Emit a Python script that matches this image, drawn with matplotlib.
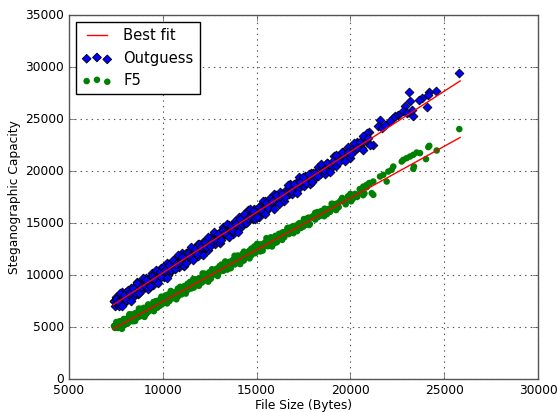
import matplotlib
matplotlib.use("Agg")
import matplotlib.pyplot as plt
import numpy as np

# ---- data ----
# files measured with both methods (set A)
file_size = [
    7400, 7450, 7500, 7550, 7600, 7650, 7700, 7750, 7800, 7850,
    7900, 7950, 8000, 8050, 8100, 8150, 8200, 8250, 8300, 8350,
    8400, 8450, 8500, 8550, 8600, 8650, 8700, 8750, 8800, 8850,
    8900, 8950, 9000, 9050, 9100, 9150, 9200, 9250, 9300, 9350,
    9400, 9450, 9500, 9550, 9600, 9650, 9700, 9750, 9800, 9850,
    9900, 9950, 10000, 10050, 10100, 10150, 10200, 10250, 10300, 10350,
    10400, 10450, 10500, 10550, 10600, 10650, 10700, 10750, 10800, 10850,
    10900, 10950, 11000, 11050, 11100, 11150, 11200, 11250, 11300, 11350,
    11400, 11450, 11500, 11550, 11600, 11650, 11700, 11750, 11800, 11850,
    11900, 11950,
    12000, 12080, 12160, 12240, 12320, 12400, 12480, 12560, 12640, 12720,
    12800, 12880, 12960, 13040, 13120, 13200, 13280, 13360, 13440, 13520,
    13600, 13680, 13760, 13840, 13920, 14000, 14080, 14160, 14240, 14320,
    14400, 14480, 14560, 14640, 14720, 14800, 14880, 14960, 15040, 15120,
    15200, 15280, 15360, 15440, 15520, 15600, 15680, 15760, 15840, 15920,
    16000, 16080, 16160, 16240, 16320, 16400, 16480, 16560, 16640, 16720,
    16800, 16880, 16960, 17040, 17120, 17200, 17280, 17360, 17440, 17520,
    17600, 17680, 17760, 17840, 17920,
    18000, 18125, 18250, 18375, 18500, 18625, 18750, 18875, 19000, 19125,
    19250, 19375, 19500, 19625, 19750, 19875, 20000, 20125, 20250, 20375,
    20500, 20625, 20750, 20875, 21000,
]

outguess_capacity = [
    7497, 7005, 7863, 7272, 7580, 7038, 7946, 7604, 7362, 8371,
    7229, 8037, 7745, 8403, 7662, 8170, 8428, 7936, 8794, 8202,
    8511, 7969, 8877, 8535, 8293, 9301, 8160, 8968, 8676, 9334,
    8592, 9101, 9359, 8867, 9725, 9133, 9441, 8900, 9808, 9466,
    9224, 10232, 9090, 9899, 9607, 10265, 9523, 10031, 10290, 9798,
    10656, 10064, 10372, 9830, 10739, 10397, 10155, 11163, 10021, 10830,
    10538, 11196, 10454, 10962, 11220, 10729, 11587, 10995, 11303, 10761,
    11670, 11328, 11086, 12094, 10952, 11760, 11469, 12127, 11385, 11893,
    12151, 11660, 12518, 11926, 12234, 11692, 12600, 12259, 12017, 13025,
    11883, 12691,
    12799, 12242, 13235, 12678, 13021, 12414, 13458, 13251, 13044, 13987,
    13030, 13723, 13466, 14159, 13552, 14646, 13989, 14382, 13825, 14818,
    14261, 14604, 13997, 15040, 14833, 14626, 15570, 14613, 15306, 15049,
    15742, 15135, 16228, 15571, 15964, 15407, 16400, 15844, 16187, 15580,
    16623, 16416, 16209, 17152, 16195, 16888, 16631, 17325, 16718, 17811,
    17154, 17547, 16990, 17983, 17426, 17769, 17162, 18205, 17999, 17792,
    18735, 17778, 18471, 18214, 18907, 18300, 19393, 18737, 19130, 18573,
    19566, 19009, 19352, 18745, 19788,
    19831, 19326, 20372, 19767, 20263, 19758, 20804, 20549, 20394, 21490,
    20535, 21331, 21176, 21872, 21317, 22313, 21308, 22254, 21999, 22795,
    22540, 22185, 23081, 22826, 23722,
]

f5_capacity = [
    5130, 4930, 5129, 5479, 4929, 5179, 5578, 4928, 5478, 5278,
    5727, 5227, 5577, 5776, 5376, 5776, 6126, 5575, 5825, 6225,
    5575, 6124, 5924, 6374, 5874, 6223, 6423, 6023, 6422, 6772,
    6222, 6472, 6871, 6221, 6771, 6571, 7020, 6520, 6870, 7070,
    6669, 7069, 7419, 6869, 7118, 7518, 6868, 7417, 7217, 7667,
    7167, 7516, 7716, 7316, 7716, 8065, 7515, 7765, 8165, 7514,
    8064, 7864, 8314, 7813, 8163, 8363, 7962, 8362, 8712, 8162,
    8411, 8811, 8161, 8711, 8510, 8960, 8460, 8810, 9009, 8609,
    9009, 9359, 8808, 9058, 9458, 8808, 9357, 9157, 9607, 9106,
    9456, 9656,
    9755, 9285, 9714, 10144, 9573, 9903, 10283, 9662, 10292, 10071,
    10501, 10631, 10160, 10590, 11019, 10449, 10779, 11158, 10538, 11167,
    10947, 11376, 11506, 11036, 11465, 11894, 11324, 11654, 12033, 11413,
    12042, 11822, 12252, 12381, 11911, 12340, 12770, 12200, 12529, 12909,
    12288, 12918, 12697, 13127, 13256, 12786, 13216, 13645, 13075, 13404,
    13784, 13163, 13793, 13573, 14002, 14132, 13661, 14091, 14520, 13950,
    14279, 14659, 14039, 14668, 14448, 14877, 15007, 14536, 14966, 15396,
    14825, 15155, 15534, 14914, 15543,
    15673, 15347, 16071, 15696, 16070, 16394, 15869, 16393, 16867, 16391,
    16866, 16540, 17214, 17089, 16813, 17537, 17812, 17336, 17810, 17735,
    18259, 18133, 17858, 18482, 18856,
]

# files measured with both methods (set B)
file_size_b = [
    7425, 7525, 7625, 7725, 7825, 7925, 8025, 8125, 8225, 8325,
    8425, 8525, 8625, 8725, 8825, 8925, 9025, 9125, 9225, 9325,
    9425, 9525, 9625, 9725, 9825, 9925, 10025, 10125, 10225, 10325,
    10425, 10525, 10625, 10725, 10825, 10925, 11025, 11125, 11225, 11325,
    11425, 11525, 11625, 11725, 11825, 11925, 12025, 12125, 12225, 12325,
    12425, 12525, 12625, 12725, 12825, 12925, 13025, 13125, 13225, 13325,
    13425, 13525, 13625, 13725, 13825, 13925, 14025, 14125, 14225, 14325,
    14425, 14525, 14625, 14725, 14825, 14925, 15025, 15125, 15225, 15325,
    15425, 15525, 15625, 15725, 15825, 15925,
    16040, 16200, 16360, 16520, 16680, 16840, 17000, 17160, 17320, 17480,
    17640, 17800, 17960, 18120, 18280, 18440, 18600, 18760, 18920, 19080,
    19240, 19400, 19560, 19720, 19880, 20040, 20200, 20360, 20520, 20680,
    20840,
]

outguess_capacity_b = [
    7526, 7692, 7409, 8275, 7041, 8058, 7624, 8540, 8257, 7523,
    8790, 8306, 9222, 8339, 8905, 9721, 8938, 9504, 8720, 8937,
    9903, 9620, 10486, 9252, 10269, 9835, 10751, 10468, 9734, 11000,
    10517, 11433, 10550, 11116, 11932, 11149, 11715, 10931, 11148, 12114,
    11830, 12697, 11463, 12480, 12046, 12962, 12679, 11945, 13211, 12728,
    13644, 12760, 13327, 14143, 13359, 13926, 13142, 13359, 14325, 14041,
    14908, 13674, 14690, 14257, 15173, 14889, 14156, 15422, 14938, 15855,
    14971, 15538, 16354, 15570, 16137, 15353, 15569, 16536, 16252, 17118,
    15885, 16901, 16468, 17384, 17100, 16367,
    17700, 16886, 17772, 17509, 18645, 18081, 18717, 17903, 18940, 19476,
    18862, 19748, 18934, 19821, 19557, 20693, 20129, 20765, 19952, 20988,
    21524, 20910, 21796, 20983, 21869, 21605, 22741, 22178, 22814, 22000,
    23036,
]

f5_capacity_b = [
    5105, 5504, 5004, 5453, 4853, 5802, 5502, 5351, 6251, 5650,
    6200, 5599, 6249, 6798, 6097, 6497, 5996, 6296, 7195, 6695,
    7144, 6544, 7493, 7193, 7042, 7942, 7341, 7890, 7290, 7939,
    8489, 7788, 8188, 7687, 7987, 8886, 8386, 8835, 8234, 9184,
    8883, 8733, 9632, 9032, 9581, 8981, 9630, 10180, 9479, 9879,
    9378, 9677, 10577, 10076, 10526, 9925, 10875, 10574, 10424, 11323,
    10723, 11272, 10672, 11321, 11870, 11170, 11569, 11069, 11368, 12268,
    11767, 12217, 11616, 12566, 12265, 12115, 13014, 12413, 12963, 12362,
    13012, 13561, 12861, 13260, 12760, 13059,
    13223, 13982, 13391, 14150, 14559, 14169, 14728, 14237, 14846, 14655,
    15414, 14823, 15582, 15991, 15600, 16160, 15669, 16278, 16087, 16846,
    16255, 17014, 17423, 17032, 17592, 17101, 17710, 17519, 18278, 17687,
    18446,
]

# sparse large files
outguess_tail_size = [25805, 24563, 24206, 24152, 24067, 23800, 23673, 23140,
                      23177, 23353, 23267, 22910, 22820, 23000, 22553, 22377,
                      22287, 21578, 21487, 21668, 21844, 22111, 20869, 20687,
                      20954, 21221, 21045]
outguess_tail_cap = [29423, 27654, 27596, 27337, 26115, 27020, 26856, 27596,
                     26692, 25250, 25894, 26279, 25731, 25577, 25413, 25250,
                     25096, 24933, 24288, 24135, 24452, 24769, 23654, 23327,
                     23173, 22529, 22529]

f5_tail_size = [25805, 24206, 24152, 24600, 24030, 23710, 23534, 23353, 23177,
                23000, 22820, 22735, 23390, 23353, 22287, 22200, 22020, 21934,
                21754, 21578, 21221, 21045, 20869, 20687, 20602, 21221, 21135]
f5_tail_cap = [24038, 22433, 22308, 21981, 21154, 21731, 21788, 21567, 21404,
               21250, 21087, 20923, 20442, 20221, 20442, 20125, 19962, 19000,
               19644, 19481, 19000, 18846, 18683, 18519, 18202, 17721, 17885]

# best-fit lines (slope, intercept) and x-range
outguess_fit = [1.1636, -1414.0]
f5_fit = [0.9946, -2480.0]
fit_range = [7360, 25850]

x_ticks = [5000, 10000, 15000, 20000, 25000, 30000]
y_ticks = [0, 5000, 10000, 15000, 20000, 25000, 30000, 35000]

# ---- plot ----
plt.style.use('classic')
plt.rcParams['font.family'] = ['DejaVu Sans']
plt.rcParams['font.size'] = 8.8

fig = plt.figure(figsize=(5.57, 4.12), dpi=100)
fig.patch.set_facecolor('white')
ax = fig.add_axes([69/557, 1 - 379.3/412, 469/557, 364.3/412])

og_x = np.array(file_size + file_size_b + outguess_tail_size)
og_y = np.array(outguess_capacity + outguess_capacity_b + outguess_tail_cap)
f5_x = np.array(file_size + file_size_b + f5_tail_size)
f5_y = np.array(f5_capacity + f5_capacity_b + f5_tail_cap)

sc1 = ax.scatter(og_x, og_y, marker='D', s=20, c='b', edgecolors='k',
                 linewidths=0.6, label='Outguess', zorder=2)
sc2 = ax.scatter(f5_x, f5_y, marker='o', s=22, c='g', edgecolors='none',
                 label='F5', zorder=2)

fx = np.array(fit_range, dtype=float)
ln, = ax.plot(fx, outguess_fit[0] * fx + outguess_fit[1], 'r-', lw=1,
              label='Best fit', zorder=3)
ax.plot(fx, f5_fit[0] * fx + f5_fit[1], 'r-', lw=1, zorder=3)

ax.set_xlim(5000, 30000)
ax.set_ylim(0, 35000)
ax.set_xticks(x_ticks)
ax.set_yticks(y_ticks)
ax.grid(True, color='#555555', linestyle=':', linewidth=0.8)
ax.set_axisbelow(True)
for sp in ax.spines.values():
    sp.set_color('#555555')
ax.tick_params(direction='in', length=4, color='#555555', pad=3.5)
ax.set_xlabel('File Size (Bytes)', labelpad=1)
ax.set_ylabel('Steganographic Capacity', labelpad=3)

ax.legend(handles=[ln, sc1, sc2], loc='upper left', fontsize=10.6,
          scatterpoints=3, fancybox=False, frameon=True)

fig.savefig('out.png', dpi=100, facecolor='white')
